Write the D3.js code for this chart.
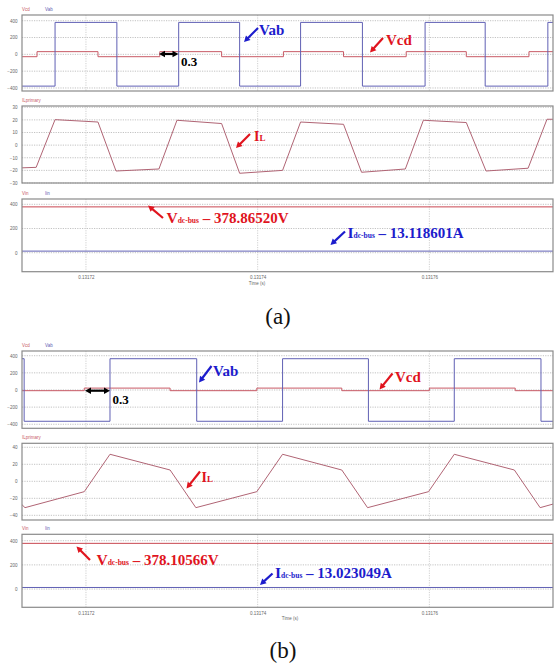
<!DOCTYPE html>
<html>
<head>
<meta charset="utf-8">
<script src="https://cdn.jsdelivr.net/npm/d3@7"></script>
<style>
  body { margin: 0; background: #fff; }
  svg { display: block; }
</style>
</head>
<body>
<svg id="chart" width="554" height="669"></svg>
<script>
// time axis (s)
const timeTicks = [0.13172, 0.13174, 0.13176];
const timeDomain = [0.13171255, 0.1317744];

// ---- (a) ----
// step waveforms: value holds from each time until the next one
const vabTimeA = [0.13171255, 0.1317164, 0.1317236, 0.1317308, 0.1317379, 0.1317450, 0.1317522, 0.1317595, 0.1317665, 0.1317738, 0.1317744];
const vabValA  = [-378, 380, -378, 380, -378, 380, -378, 380, -378, 380, 380];
const vcdTimeA = [0.13171255, 0.1317143, 0.1317214, 0.1317286, 0.1317358, 0.1317430, 0.1317500, 0.1317573, 0.1317643, 0.1317716, 0.1317744];
const vcdValA  = [-28, 32, -28, 32, -28, 32, -28, 32, -28, 32, 32];
const ilTimeA = [0.1317125, 0.1317142, 0.1317164, 0.1317214, 0.1317235, 0.1317285, 0.1317306, 0.1317358, 0.1317379, 0.1317429, 0.1317450, 0.1317500, 0.1317521, 0.1317572, 0.1317593, 0.1317643, 0.1317666, 0.1317715, 0.1317737, 0.1317745];
const ilValA  = [-18, -17.6, 20.2, 18.3, -20.5, -18.9, 19.7, 17.1, -22.3, -20, 18.3, 16.5, -21.5, -18.9, 19.7, 17.9, -20.5, -18.3, 20.5, 20.5];
const vinA = 378.86520;
const iinA = 13.118601;

// ---- (b) ----
const vabTimeB = [0.13171255, 0.1317128, 0.1317228, 0.1317329, 0.1317429, 0.1317529, 0.1317629, 0.1317730, 0.1317744];
const vabValB  = [365, -365, 365, -365, 365, -365, 365, -365, -365];
const vcdTimeB = [0.13171255, 0.1317198, 0.1317298, 0.1317399, 0.1317498, 0.1317600, 0.1317700, 0.1317744];
const vcdValB  = [-8, 22, -8, 22, -8, 22, -8, -8];
const ilTimeB = [0.1317125, 0.1317129, 0.1317198, 0.1317228, 0.1317298, 0.1317328, 0.1317399, 0.1317429, 0.1317498, 0.1317528, 0.1317599, 0.1317629, 0.1317699, 0.1317729, 0.1317745];
const ilValB  = [-27, -31, -12.2, 31.8, 13.3, -31, -12.2, 31.8, 13.3, -31, -12.2, 31.8, 13.3, -31, -26.5];
const vinB = 378.10566;
const iinB = 13.023049;

const RED = "#c85a66", BLUE = "#6060b4", IL_COL = "#b06474";
const ANN_RED = "#e0141e", ANN_BLUE = "#1c1ccc";

const svg = d3.select("#chart");
const left = 22, right = 553;
const x = d3.scaleLinear().domain(timeDomain).range([left, right]);

const zip = (t, v) => t.map((d, i) => ({ t: d, v: v[i] }));

const panels = [
  { top: 15, bottom: 91, domain: [-436, 468], ticks: [-400, -200, 0, 200, 400],
    legend: [["Vcd", RED], ["Vab", BLUE]],
    series: [{ data: zip(vcdTimeA, vcdValA), color: RED, step: true },
             { data: zip(vabTimeA, vabValA), color: BLUE, step: true }] },
  { top: 106, bottom: 183, domain: [-30, 31], ticks: [-30, -20, -10, 0, 10, 20, 30],
    legend: [["ILprimary", RED]],
    series: [{ data: zip(ilTimeA, ilValA), color: IL_COL }] },
  { top: 199, bottom: 271.7, domain: [-157, 444], ticks: [0, 200, 400],
    legend: [["Vin", RED], ["Iin", BLUE]],
    series: [{ data: zip(timeDomain, [vinA, vinA]), color: "#c84650" },
             { data: zip(timeDomain, [iinA, iinA]), color: BLUE }],
    timeAxis: true, timeLabel: [257, 285] },
  { top: 351, bottom: 428.3, domain: [-447, 455], ticks: [-400, -200, 0, 200, 400],
    legend: [["Vcd", RED], ["Vab", BLUE]],
    series: [{ data: zip(vcdTimeB, vcdValB), color: RED, step: true },
             { data: zip(vabTimeB, vabValB), color: BLUE, step: true }] },
  { top: 443.3, bottom: 520, domain: [-45.5, 44.7], ticks: [-40, -20, 0, 20, 40],
    legend: [["ILprimary", RED]],
    series: [{ data: zip(ilTimeB, ilValB), color: IL_COL }] },
  { top: 534.3, bottom: 607.3, domain: [-151, 453], ticks: [0, 200, 400],
    legend: [["Vin", RED], ["Iin", BLUE]],
    series: [{ data: zip(timeDomain, [vinB, vinB]), color: "#c84650" },
             { data: zip(timeDomain, [iinB, iinB]), color: BLUE }],
    timeAxis: true, timeLabel: [290, 620] }
];

panels.forEach((p, i) => {
  const y = d3.scaleLinear().domain(p.domain).range([p.bottom, p.top]);
  const g = svg.append("g");

  // grid
  g.selectAll(".hg").data(p.ticks).enter().append("line")
    .attr("x1", left).attr("x2", right)
    .attr("y1", d => y(d)).attr("y2", d => y(d))
    .attr("stroke", "#b4b4b4").attr("stroke-width", 0.8).attr("stroke-dasharray", "1.2,1.2");
  g.selectAll(".vg").data(timeTicks).enter().append("line")
    .attr("x1", d => x(d)).attr("x2", d => x(d))
    .attr("y1", p.top).attr("y2", p.bottom)
    .attr("stroke", "#c4c4c4").attr("stroke-width", 0.8).attr("stroke-dasharray", "1.2,1.2");

  // y axis labels
  const yAxis = d3.axisLeft(y).tickValues(p.ticks).tickSize(0).tickPadding(0);
  const ax = g.append("g").attr("transform", `translate(17.5,0)`).call(yAxis);
  ax.select(".domain").remove();
  ax.selectAll("text").attr("fill", "#666").style("font", "4.5px 'Liberation Sans', Arial, sans-serif");

  // legend
  p.legend.forEach((l, j) => {
    g.append("text").attr("x", left + j * 23).attr("y", p.top - 4)
      .attr("fill", l[1]).style("font", "4.5px 'Liberation Sans', Arial, sans-serif").text(l[0]);
  });

  // clip + series
  const cid = "clip" + i;
  svg.append("clipPath").attr("id", cid).append("rect")
    .attr("x", left).attr("y", p.top).attr("width", right - left).attr("height", p.bottom - p.top);
  p.series.forEach(s => {
    const line = d3.line().x(d => x(d.t)).y(d => y(d.v))
      .curve(s.step ? d3.curveStepAfter : d3.curveLinear);
    g.append("path").datum(s.data).attr("clip-path", `url(#${cid})`)
      .attr("d", line).attr("fill", "none").attr("stroke", s.color).attr("stroke-width", 1);
  });

  // border
  g.append("rect").attr("x", left).attr("y", p.top)
    .attr("width", right - left).attr("height", p.bottom - p.top)
    .attr("fill", "none").attr("stroke", "#8a8a8a").attr("stroke-width", 1.2);

  if (p.timeAxis) {
    const xAxis = d3.axisBottom(x).tickValues(timeTicks).tickSize(0).tickPadding(0)
      .tickFormat(d3.format(".5f"));
    const xa = g.append("g").attr("transform", `translate(0,${p.bottom + 4})`).call(xAxis);
    xa.select(".domain").remove();
    xa.selectAll("text").attr("fill", "#666").style("font", "4.5px 'Liberation Sans', Arial, sans-serif");
    g.append("text").attr("x", p.timeLabel[0]).attr("y", p.timeLabel[1]).attr("text-anchor", "middle")
      .attr("fill", "#666").style("font", "4.5px 'Liberation Sans', Arial, sans-serif").text("Time (s)");
  }
});

// ---- annotations ----
const serif = "'Liberation Serif', 'Times New Roman', serif";

function arrow(x1, y1, x2, y2, color, both) {
  const ang = Math.atan2(y2 - y1, x2 - x1);
  const hl = 6, hw = 3.2;
  const head = (px, py, a) => {
    const bx = px - hl * Math.cos(a), by = py - hl * Math.sin(a);
    return `M${px},${py}L${bx - hw * Math.sin(a)},${by + hw * Math.cos(a)}L${bx + hw * Math.sin(a)},${by - hw * Math.cos(a)}Z`;
  };
  const sx = both ? x1 + (hl - 1) * Math.cos(ang) : x1, sy = both ? y1 + (hl - 1) * Math.sin(ang) : y1;
  svg.append("line").attr("x1", sx).attr("y1", sy)
    .attr("x2", x2 - (hl - 1) * Math.cos(ang)).attr("y2", y2 - (hl - 1) * Math.sin(ang))
    .attr("stroke", color).attr("stroke-width", 2.2);
  svg.append("path").attr("d", head(x2, y2, ang)).attr("fill", color);
  if (both) svg.append("path").attr("d", head(x1, y1, ang + Math.PI)).attr("fill", color);
}

function label(xp, yp, parts, color) {
  const t = svg.append("text").attr("x", xp).attr("y", yp).attr("fill", color)
    .style("font-family", serif).style("font-weight", "bold");
  parts.forEach(p => t.append("tspan").style("font-size", p[1] + "px").text(p[0]));
}

// (a)
arrow(258, 28, 244, 42, ANN_BLUE);
label(259, 35, [["Vab", 15]], ANN_BLUE);
arrow(383, 38, 370, 52.5, ANN_RED);
label(386, 45, [["Vcd", 15]], ANN_RED);
arrow(159, 54, 178.5, 54, "#000", true);
label(181, 66, [["0.3", 13]], "#000");
arrow(250, 134, 236, 148, ANN_RED);
label(254, 141, [["I", 14], ["L", 9]], ANN_RED);
arrow(163, 218, 148, 205.5, ANN_RED);
label(166.5, 222.5, [["V", 15.5], ["dc-bus", 7.5], [" \u2013 378.86520V", 15]], ANN_RED);
arrow(345, 231.5, 330.5, 245, ANN_BLUE);
label(347.5, 238, [["I", 15.5], ["dc-bus", 7.5], [" \u2013 13.118601A", 15]], ANN_BLUE);

// (b)
arrow(211.5, 366, 199, 382.5, ANN_BLUE);
label(213, 376, [["Vab", 15]], ANN_BLUE);
arrow(392.5, 373.5, 379.5, 389.5, ANN_RED);
label(395, 381.7, [["Vcd", 15]], ANN_RED);
arrow(85, 390.7, 110, 390.7, "#000", true);
label(112.5, 403.5, [["0.3", 13]], "#000");
arrow(200, 471.5, 186.5, 488.5, ANN_RED);
label(201.5, 481.7, [["I", 14], ["L", 9]], ANN_RED);
arrow(90, 560, 76.5, 546.5, ANN_RED);
label(96.5, 565, [["V", 15.5], ["dc-bus", 7.5], [" \u2013 378.10566V", 15]], ANN_RED);
arrow(272.5, 573.5, 260, 585, ANN_BLUE);
label(275, 578, [["I", 15.5], ["dc-bus", 7.5], [" \u2013 13.023049A", 15]], ANN_BLUE);

// captions
svg.append("text").attr("x", 278).attr("y", 324).attr("text-anchor", "middle")
  .style("font", `23px ${serif}`).attr("fill", "#111").text("(a)");
svg.append("text").attr("x", 283).attr("y", 658).attr("text-anchor", "middle")
  .style("font", `23px ${serif}`).attr("fill", "#111").text("(b)");
</script>
</body>
</html>
